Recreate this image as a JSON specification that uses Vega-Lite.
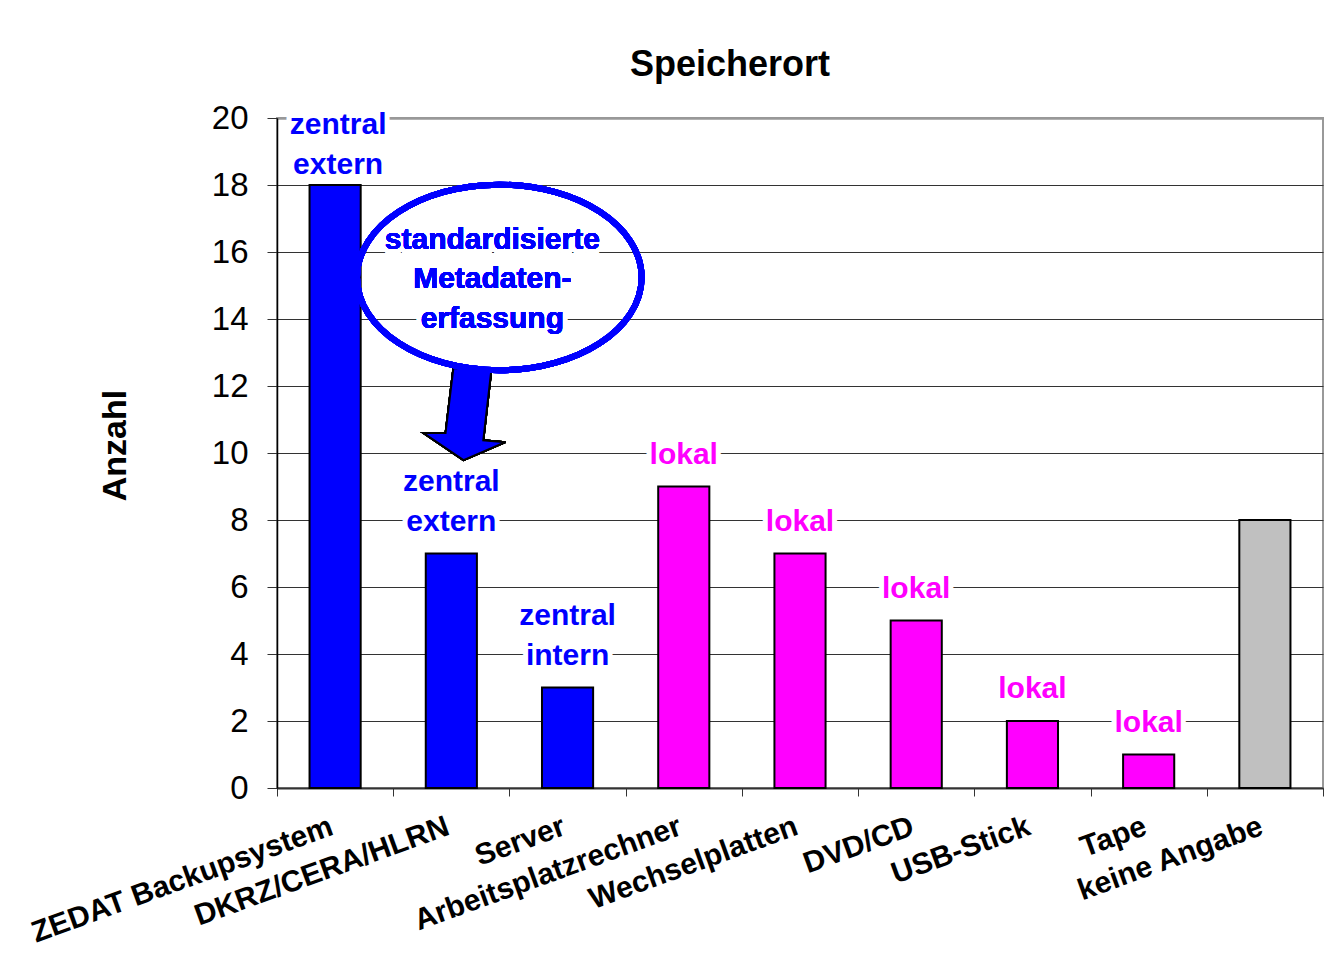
{
  "$schema": "https://vega.github.io/schema/vega-lite/v6.json",
  "width": 1046,
  "height": 670,
  "autosize": "none",
  "padding": {"left": 277, "top": 118, "right": 1, "bottom": 186},
  "background": "white",
  "title": {"text": "Speicherort", "fontSize": 36, "fontWeight": "bold", "font": "Liberation Sans", "anchor": "middle", "dx": -70, "offset": 18, "color": "black"},
  "config": {"view": {"stroke": "#999999", "strokeWidth": 2}, "font": "Liberation Sans"},
  "data": {"values": [
    {"ort": "ZEDAT Backupsystem", "anzahl": 18, "typ": "zentral", "label": "zentral\nextern"},
    {"ort": "DKRZ/CERA/HLRN", "anzahl": 7, "typ": "zentral", "label": "zentral\nextern"},
    {"ort": "Server", "anzahl": 3, "typ": "zentral", "label": "zentral\nintern"},
    {"ort": "Arbeitsplatzrechner", "anzahl": 9, "typ": "lokal", "label": "lokal"},
    {"ort": "Wechselplatten", "anzahl": 7, "typ": "lokal", "label": "lokal"},
    {"ort": "DVD/CD", "anzahl": 5, "typ": "lokal", "label": "lokal"},
    {"ort": "USB-Stick", "anzahl": 2, "typ": "lokal", "label": "lokal"},
    {"ort": "Tape", "anzahl": 1, "typ": "lokal", "label": "lokal"},
    {"ort": "keine Angabe", "anzahl": 8, "typ": "keine", "label": ""}
  ]},
  "encoding": {
    "x": {"field": "ort", "type": "nominal", "sort": null,
      "scale": {"paddingInner": 0, "paddingOuter": 0},
      "axis": {"title": null, "domainColor": "#333333", "domainWidth": 2, "tickColor": "#333333", "tickSize": 8, "tickWidth": 1, "tickBand": "extent",
        "labelFontSize": 30, "labelFontWeight": "bold", "labelAngle": -20, "labelAlign": "right", "labelBaseline": "top", "labelPadding": 15, "labelOffset": -9,
        "labelLimit": 1000, "labelOverlap": false, "labelColor": "black", "grid": false, "labelFont": "Liberation Sans"}},
    "y": {"field": "anzahl", "type": "quantitative",
      "scale": {"domain": [0, 20], "nice": false},
      "axis": {"values": [0, 2, 4, 6, 8, 10, 12, 14, 16, 18, 20], "grid": true,
        "gridColor": {"condition": {"test": "datum.value == 20", "value": "#999999"}, "value": "#333333"},
        "gridWidth": {"condition": {"test": "datum.value == 20", "value": 2.5}, "value": 1},
        "domainColor": "black", "domainWidth": 1.5, "tickColor": "#333333", "tickSize": 10, "labelFontSize": 33, "labelPadding": 19,
        "labelColor": "black", "labelFont": "Liberation Sans", "title": "Anzahl", "titleFontSize": 34, "titleFontWeight": "bold", "titleColor": "black",
        "titleAngle": -90, "titleX": -162, "titleY": 327, "titleAlign": "center", "titleBaseline": "middle", "titleFont": "Liberation Sans"}}
  },
  "layer": [
    {"mark": {"type": "bar", "width": {"band": 0.44}, "stroke": "black", "strokeWidth": 2},
     "encoding": {"color": {"field": "typ", "type": "nominal", "scale": {"domain": ["zentral", "lokal", "keine"], "range": ["#0000FF", "#FF00FF", "#C0C0C0"]}, "legend": null}}},
    {"transform": [{"filter": "datum.typ == 'lokal'"}],
     "mark": {"type": "text", "baseline": "middle", "align": "center", "dy": -32, "fontSize": 30, "fontWeight": "bold", "letterSpacing": 1, "fill": "white", "stroke": "white", "strokeWidth": 10, "strokeJoin": "round"},
     "encoding": {"text": {"field": "label"}}},
    {"transform": [{"filter": "datum.typ == 'lokal'"}],
     "mark": {"type": "text", "baseline": "middle", "align": "center", "dy": -32, "fontSize": 30, "fontWeight": "bold", "letterSpacing": 1},
     "encoding": {"text": {"field": "label"}, "color": {"field": "typ", "type": "nominal", "legend": null}}},
    {"transform": [{"filter": "datum.typ == 'zentral' && datum.ort != 'ZEDAT Backupsystem'"}],
     "mark": {"type": "text", "baseline": "middle", "align": "center", "dy": -72, "fontSize": 30, "fontWeight": "bold", "letterSpacing": 1, "lineBreak": "\n", "lineHeight": 40, "fill": "white", "stroke": "white", "strokeWidth": 10, "strokeJoin": "round"},
     "encoding": {"text": {"field": "label"}}},
    {"transform": [{"filter": "datum.typ == 'zentral' && datum.ort != 'ZEDAT Backupsystem'"}],
     "mark": {"type": "text", "baseline": "middle", "align": "center", "dy": -72, "fontSize": 30, "fontWeight": "bold", "letterSpacing": 1, "lineBreak": "\n", "lineHeight": 40},
     "encoding": {"text": {"field": "label"}, "color": {"field": "typ", "type": "nominal", "legend": null}}},
    {"transform": [{"filter": "datum.ort == 'ZEDAT Backupsystem'"}],
     "mark": {"type": "text", "baseline": "middle", "align": "center", "dy": -60, "xOffset": 3, "fontSize": 30, "fontWeight": "bold", "letterSpacing": 1, "lineBreak": "\n", "lineHeight": 40, "fill": "white", "stroke": "white", "strokeWidth": 10, "strokeJoin": "round"},
     "encoding": {"text": {"field": "label"}}},
    {"transform": [{"filter": "datum.ort == 'ZEDAT Backupsystem'"}],
     "mark": {"type": "text", "baseline": "middle", "align": "center", "dy": -60, "xOffset": 3, "fontSize": 30, "fontWeight": "bold", "letterSpacing": 1, "lineBreak": "\n", "lineHeight": 40},
     "encoding": {"text": {"field": "label"}, "color": {"field": "typ", "type": "nominal", "legend": null}}},
    {"mark": {"type": "point", "shape": "M -0.26 -1 L 0.57 -1 L 0.39 0.57 L 0.87 0.61 L -0.04 1 L -0.91 0.41 L -0.43 0.41 Z", "size": 8464, "filled": true, "fill": "#0000FF", "stroke": "black", "strokeWidth": 2, "opacity": 1, "xOffset": 14},
     "encoding": {"x": {"datum": "DKRZ/CERA/HLRN", "type": "nominal"}, "y": {"datum": 11.16, "type": "quantitative"}}},
    {"mark": {"type": "point", "shape": "M 1 0 C 1 0.36 0.5523 0.652 0 0.652 C -0.5523 0.652 -1 0.36 -1 0 C -1 -0.36 -0.5523 -0.652 0 -0.652 C 0.5523 -0.652 1 -0.36 1 0 Z", "size": 81000, "filled": false, "stroke": "#0000FF", "strokeWidth": 6, "opacity": 1, "xOffset": 48},
     "encoding": {"x": {"datum": "DKRZ/CERA/HLRN", "type": "nominal"}, "y": {"datum": 15.24, "type": "quantitative"}}},
    {"mark": {"type": "text", "baseline": "middle", "align": "center", "xOffset": 41, "fontSize": 30, "fontWeight": "bold", "letterSpacing": 0.8, "lineBreak": "\n", "lineHeight": 39.5, "fill": "white", "stroke": "white", "strokeWidth": 10, "strokeJoin": "round"},
     "encoding": {"x": {"datum": "DKRZ/CERA/HLRN", "type": "nominal"}, "y": {"datum": 16.36, "type": "quantitative"}, "text": {"value": "standardisierte\nMetadaten-\nerfassung"}}},
    {"mark": {"type": "text", "baseline": "middle", "align": "center", "xOffset": 41, "fontSize": 30, "fontWeight": "bold", "letterSpacing": 0.8, "lineBreak": "\n", "lineHeight": 39.5, "fill": "#0000FF"},
     "encoding": {"x": {"datum": "DKRZ/CERA/HLRN", "type": "nominal"}, "y": {"datum": 16.36, "type": "quantitative"}, "text": {"value": "standardisierte\nMetadaten-\nerfassung"}}}
  ]
}
